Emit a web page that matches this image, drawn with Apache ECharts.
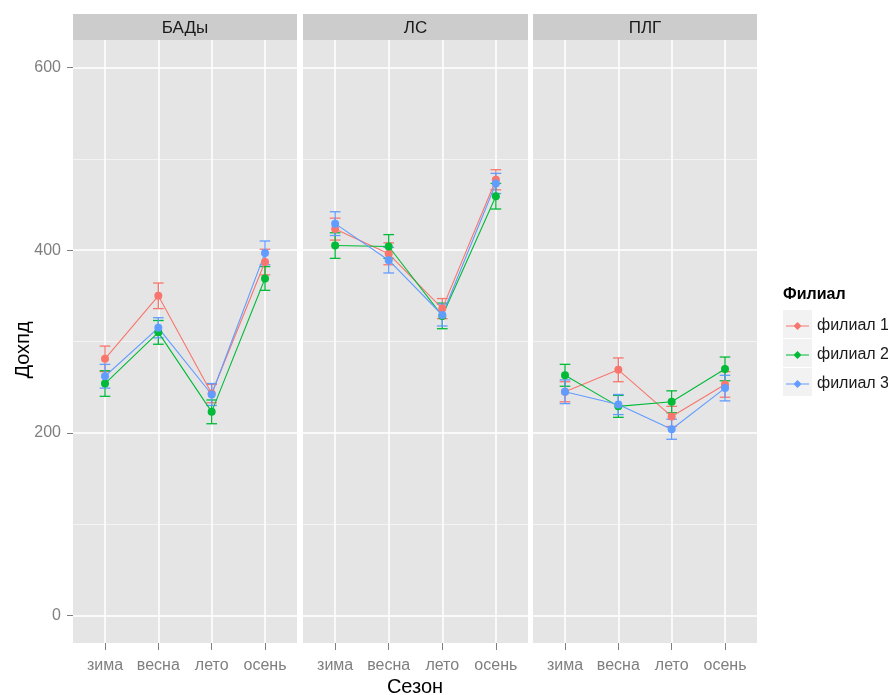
<!DOCTYPE html>
<html>
<head>
<meta charset="utf-8">
<script src="https://cdn.jsdelivr.net/npm/echarts@6/dist/echarts.min.js"></script>
<style>
  html, body { margin: 0; padding: 0; background: #ffffff; }
  #chart { width: 888px; height: 695px; }
</style>
</head>
<body>
<div id="chart"></div>
<script>
// Seasons on the x axis, product groups as facets, branches as series
const seasons = ['зима', 'весна', 'лето', 'осень'];
const facets = ['БАДы', 'ЛС', 'ПЛГ'];
const branches = ['филиал 1', 'филиал 2', 'филиал 3'];
const yTicks = [0, 200, 400, 600];
const yMinorTicks = [100, 300, 500];

// Mean income per season (one array per facet and branch)
const badyF1 = [281, 350, 243, 387];
const badyF2 = [254, 310, 223, 369];
const badyF3 = [262, 315, 242, 397];
const lsF1 = [423, 396, 336, 477];
const lsF2 = [405, 404, 328, 459];
const lsF3 = [429, 389, 329, 473];
const plgF1 = [245, 269, 218, 253];
const plgF2 = [263, 229, 234, 270];
const plgF3 = [245, 231, 204, 249];

// Half-width of the error bars
const badyErrF1 = [14, 14, 10, 14];
const badyErrF2 = [14, 13, 13, 13];
const badyErrF3 = [13, 11, 12, 13];
const lsErrF1 = [12, 12, 11, 11];
const lsErrF2 = [14, 13, 14, 14];
const lsErrF3 = [13, 14, 12, 11];
const plgErrF1 = [11, 13, 11, 14];
const plgErrF2 = [12, 12, 12, 13];
const plgErrF3 = [13, 11, 11, 14];

const means = [
  [badyF1, badyF2, badyF3],
  [lsF1, lsF2, lsF3],
  [plgF1, plgF2, plgF3]
];
const errs = [
  [badyErrF1, badyErrF2, badyErrF3],
  [lsErrF1, lsErrF2, lsErrF3],
  [plgErrF1, plgErrF2, plgErrF3]
];

const colors = ['#F8766D', '#00BA38', '#619CFF'];
const FONT = '"Liberation Sans", Arial, sans-serif';
const TICK_GREY = '#7f7f7f';

const panels = [
  { left: 73, width: 224 },
  { left: 303, width: 225 },
  { left: 533, width: 224 }
];
const PANEL_TOP = 40;
const PANEL_H = 603;
const STRIP_TOP = 14;
const STRIP_H = 26;

const grids = [], xAxes = [], yAxes = [], series = [], graphics = [];

panels.forEach((p, i) => {
  grids.push({
    left: p.left, top: PANEL_TOP, width: p.width, height: PANEL_H,
    show: true, backgroundColor: '#E5E5E5', borderWidth: 0, containLabel: false
  });
  xAxes.push({
    type: 'value', gridIndex: i, min: 0.4, max: 4.6, position: 'bottom',
    axisLine: { show: false, onZero: false },
    axisTick: { show: true, customValues: [1, 2, 3, 4], length: 7, lineStyle: { color: TICK_GREY, width: 1 } },
    axisLabel: {
      customValues: [1, 2, 3, 4],
      formatter: v => seasons[Math.round(v) - 1],
      color: TICK_GREY, fontFamily: FONT, fontSize: 16, margin: 15
    },
    splitLine: { show: true, lineStyle: { color: '#ffffff', width: 1.5 } }
  });
  // major grid + labels
  yAxes.push({
    type: 'value', gridIndex: i, min: -30, max: 630, position: 'left',
    axisLine: { show: false, onZero: false },
    axisTick: { show: i === 0, customValues: yTicks, length: 6, lineStyle: { color: TICK_GREY, width: 1 } },
    axisLabel: { show: i === 0, customValues: yTicks, color: TICK_GREY, fontFamily: FONT, fontSize: 16, margin: 12 },
    splitLine: { show: true, lineStyle: { color: '#ffffff', width: 1.5 } }
  });
  // minor grid lines
  yAxes.push({
    type: 'value', gridIndex: i, min: -30, max: 630, position: 'right',
    axisLine: { show: false, onZero: false },
    axisTick: { show: false, customValues: yMinorTicks },
    axisLabel: { show: false, customValues: yMinorTicks },
    splitLine: { show: true, lineStyle: { color: '#F4F4F4', width: 1 } }
  });

  // facet strip
  graphics.push({
    type: 'rect', left: p.left, top: STRIP_TOP, z: 10,
    shape: { width: p.width, height: STRIP_H },
    style: { fill: '#CCCCCC' }
  });
  graphics.push({
    type: 'text', x: p.left + p.width / 2, y: STRIP_TOP + STRIP_H / 2 + 1, z: 11,
    style: { text: facets[i], fill: '#1a1a1a', font: '17px ' + FONT, align: 'center', verticalAlign: 'middle' }
  });
});

const CAP = 0.1; // half cap width in x-axis units

// error bars first, then lines with points
panels.forEach((p, i) => {
  branches.forEach((b, k) => {
    const m = means[i][k], e = errs[i][k];
    series.push({
      type: 'custom', name: b, xAxisIndex: i, yAxisIndex: i * 2,
      silent: true, z: 2,
      data: m.map((v, j) => [j + 1, v - e[j], v + e[j]]),
      encode: { x: 0, y: [1, 2] },
      renderItem: (params, api) => {
        const x = api.value(0);
        const lo = api.coord([x, api.value(1)]);
        const hi = api.coord([x, api.value(2)]);
        const half = api.size([CAP, 0])[0];
        const style = { stroke: colors[k], lineWidth: 1.3, fill: null };
        return {
          type: 'group',
          children: [
            { type: 'line', shape: { x1: lo[0], y1: lo[1], x2: hi[0], y2: hi[1] }, style },
            { type: 'line', shape: { x1: lo[0] - half, y1: lo[1], x2: lo[0] + half, y2: lo[1] }, style },
            { type: 'line', shape: { x1: hi[0] - half, y1: hi[1], x2: hi[0] + half, y2: hi[1] }, style }
          ]
        };
      }
    });
  });
});

panels.forEach((p, i) => {
  branches.forEach((b, k) => {
    series.push({
      type: 'line', name: b, xAxisIndex: i, yAxisIndex: i * 2,
      data: means[i][k].map((v, j) => [j + 1, v]),
      symbol: 'circle', symbolSize: 8, showSymbol: true,
      lineStyle: { color: colors[k], width: 1.1 },
      itemStyle: { color: colors[k] },
      z: 3, animation: false
    });
  });
});

// axis titles
graphics.push({
  type: 'text', x: 415, y: 687,
  style: { text: 'Сезон', fill: '#000000', font: '20px ' + FONT, align: 'center', verticalAlign: 'middle' }
});
graphics.push({
  type: 'text', x: 23, y: 350, rotation: Math.PI / 2,
  style: { text: 'Дохпд', fill: '#000000', font: '20px ' + FONT, align: 'center', verticalAlign: 'middle' }
});

// legend title and key backgrounds
graphics.push({
  type: 'text', x: 783, y: 295,
  style: { text: 'Филиал', fill: '#000000', font: 'bold 16px ' + FONT, align: 'left', verticalAlign: 'middle' }
});
[0, 1, 2].forEach(r => {
  graphics.push({
    type: 'rect', left: 783, top: 310 + r * 29, z: -1,
    shape: { width: 29, height: 28 },
    style: { fill: '#F2F2F2' }
  });
});

// legend key: short line with a diamond point
const KEY_ICON = 'path://M0 3.5 L23 3.5 L23 4.5 L0 4.5 Z M11.5 0 L15.5 4 L11.5 8 L7.5 4 Z';

const option = {
  animation: false,
  backgroundColor: '#ffffff',
  color: colors,
  grid: grids,
  xAxis: xAxes,
  yAxis: yAxes,
  legend: {
    data: branches.map(b => ({ name: b, icon: KEY_ICON })),
    orient: 'vertical',
    left: 786, top: 316,
    padding: 0,
    itemWidth: 23, itemHeight: 8, itemGap: 9,
    textStyle: { fontFamily: FONT, fontSize: 16, lineHeight: 20, color: '#1a1a1a', padding: [0, 0, 0, 3] },
    selectedMode: false
  },
  graphic: graphics,
  series: series
};

const chart = echarts.init(document.getElementById('chart'));
chart.setOption(option);
</script>
</body>
</html>
